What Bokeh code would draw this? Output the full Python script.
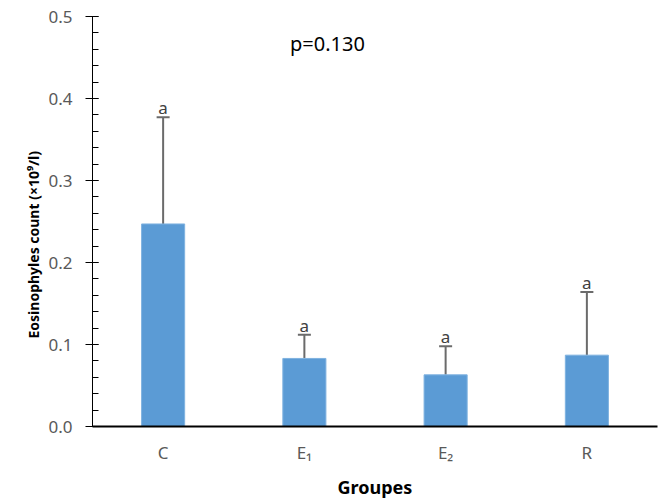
from bokeh.plotting import figure
from bokeh.models import (ColumnDataSource, Whisker, TeeHead, Label, Title, Range1d,
                          FixedTicker, SingleIntervalTicker, NumeralTickFormatter)
from bokeh.core.properties import value
from bokeh.embed import file_html
from bokeh.resources import INLINE

# Group means and standard deviations of eosinophil counts
groups = ["C", "E\u2081", "E\u2082", "R"]
means = [0.247, 0.083, 0.063, 0.087]
sds = [0.130, 0.029, 0.035, 0.077]
letters = ["a", "a", "a", "a"]
p_text = "p=0.130"

xs = [i + 0.5 for i in range(len(groups))]
upper = [m + s for m, s in zip(means, sds)]

src = ColumnDataSource(dict(x=xs, mean=means, upper=upper, lower=means, letter=letters))

p = figure(width=665, height=501, output_backend="svg", toolbar_location=None,
           x_range=Range1d(0, len(groups)), y_range=Range1d(0, 0.5),
           min_border_left=92, min_border_right=8, min_border_top=16,
           min_border_bottom=10)
p.outline_line_color = None
p.grid.visible = False
p.background_fill_color = "white"
p.border_fill_color = "white"

p.vbar(x="x", top="mean", width=0.305, source=src, fill_color="#5B9BD5",
       line_color="#7FB2E0", line_width=1)

whisk = Whisker(base="x", upper="upper", lower="lower", source=src,
                line_color="#6B6B6B", line_width=2,
                upper_head=TeeHead(size=13, line_color="#6B6B6B", line_width=2),
                lower_head=None)
p.add_layout(whisk)

p.text(x="x", y="upper", text="letter", source=src, text_align="center",
       text_baseline="bottom", y_offset=2, text_font_size="17px",
       text_color="#404040", text_font=value("Noto Sans"))

# y axis
yax = p.yaxis[0]
yax.ticker = SingleIntervalTicker(interval=0.1, num_minor_ticks=5)
yax.formatter = NumeralTickFormatter(format="0.0")
yax.major_tick_in = 6
yax.major_tick_out = 7
yax.minor_tick_in = 6
yax.minor_tick_out = 0
yax.axis_line_color = "black"
yax.major_tick_line_color = "black"
yax.minor_tick_line_color = "black"
yax.major_label_text_font = "Noto Sans"
yax.major_label_text_font_size = "17px"
yax.major_label_text_color = "#595959"
yax.major_label_standoff = 13

# y axis title, starting a fixed distance above the frame's bottom
ytitle = Title(text="Eosinophyles count (\u00d710\u2079/l)", align="left",
               offset=88, text_font="Noto Sans", text_font_size="14px",
               text_font_style="bold", text_color="black", standoff=6)
p.add_layout(ytitle, "left")

# x axis
xax = p.xaxis[0]
xax.ticker = FixedTicker(ticks=xs)
xax.major_label_overrides = {x: g for x, g in zip(xs, groups)}
xax.major_tick_in = 0
xax.major_tick_out = 0
xax.minor_tick_in = 0
xax.minor_tick_out = 0
xax.axis_line_color = "black"
xax.axis_line_width = 2
xax.major_label_text_font = "Noto Sans"
xax.major_label_text_font_size = "17px"
xax.major_label_text_color = "#595959"
xax.major_label_standoff = 14
xax.axis_label = "Groupes"
xax.axis_label_text_font = "Noto Sans"
xax.axis_label_text_font_size = "18px"
xax.axis_label_text_font_style = "bold"
xax.axis_label_text_color = "black"
xax.axis_label_standoff = 8

p.add_layout(Label(x=235, y=383, x_units="screen", y_units="screen",
                   text=p_text, text_font="Noto Sans", text_font_size="20px",
                   text_align="center", text_baseline="middle", text_color="black"))

open("out.html", "w").write(file_html(p, INLINE))
